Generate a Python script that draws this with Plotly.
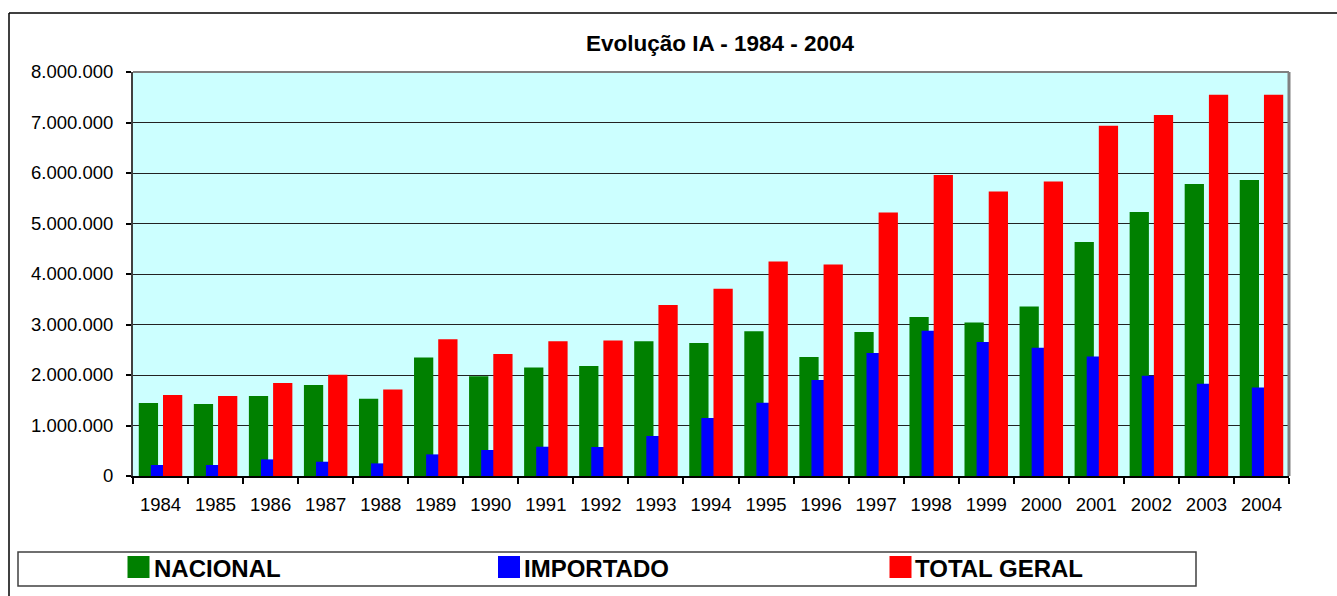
import plotly.graph_objects as go

# ---- data ----
years = [str(y) for y in range(1984, 2005)]
nacional = [1445000, 1426000, 1584000, 1802000, 1531000, 2349000, 1973000, 2148000,
            2178000, 2666000, 2634000, 2864000, 2356000, 2851000, 3149000, 3042000,
            3358000, 4634000, 5228000, 5782000, 5861000]
importado = [218000, 218000, 329000, 283000, 250000, 428000, 515000, 580000,
             574000, 792000, 1149000, 1451000, 1901000, 2436000, 2877000, 2653000,
             2540000, 2368000, 1986000, 1828000, 1754000]
total_geral = [1604000, 1584000, 1842000, 2006000, 1715000, 2706000, 2416000, 2666000,
               2685000, 3386000, 3709000, 4250000, 4190000, 5220000, 5960000, 5636000,
               5834000, 6937000, 7148000, 7550000, 7550000]
series_names = ["NACIONAL", "IMPORTADO", "TOTAL GERAL"]
series_colors = ["#008000", "#0000FF", "#FF0000"]
y_ticks = [0, 1000000, 2000000, 3000000, 4000000, 5000000, 6000000, 7000000, 8000000]
title_text = "Evolução IA - 1984 - 2004"

# ---- layout geometry (pixels) ----
W, H = 1337, 596
L, R, T, B = 133, 48, 72, 120
PW = W - L - R
PH = H - T - B


def px(x):
    return (x - L) / PW


def py(y):
    return (H - B - y) / PH


FONT = "Liberation Sans, Arial, sans-serif"

fig = go.Figure()
offsets = [-0.395, -0.175, 0.045]
for name, vals, color, off in zip(series_names, [nacional, importado, total_geral],
                                  series_colors, offsets):
    fig.add_trace(go.Bar(
        x=years, y=vals, name=name, offset=off, width=0.35, opacity=1,
        marker=dict(color=color, line=dict(width=0)),
        showlegend=False,
    ))

shapes = []
# outer chart border (top and left)
shapes.append(dict(type="line", xref="paper", yref="paper",
                   x0=px(9), y0=py(H + 5), x1=px(9), y1=py(13),
                   line=dict(color="black", width=1.5)))
shapes.append(dict(type="line", xref="paper", yref="paper",
                   x0=px(9), y0=py(13), x1=px(W + 5), y1=py(13),
                   line=dict(color="black", width=1.5)))
# plot area grey border top/right
shapes.append(dict(type="line", xref="paper", yref="paper",
                   x0=0, y0=1, x1=1, y1=1, line=dict(color="#808080", width=2)))
shapes.append(dict(type="line", xref="paper", yref="paper",
                   x0=1, y0=0, x1=1, y1=1, line=dict(color="#808080", width=3)))
# legend box
shapes.append(dict(type="rect", xref="paper", yref="paper",
                   x0=px(18), y0=py(586), x1=px(1196), y1=py(552),
                   line=dict(color="#404040", width=1.5), fillcolor="white"))

annotations = [dict(text=f"<b>{title_text}</b>", xref="paper", yref="paper",
                    x=px(720), y=py(44), xanchor="center", yanchor="middle",
                    showarrow=False, font=dict(family=FONT, size=22.5, color="black"))]

swatch_x = [127.5, 498, 889.5]
text_x = [151.5, 521.5, 913]
for name, color, sx, tx in zip(series_names, series_colors, swatch_x, text_x):
    shapes.append(dict(type="rect", xref="paper", yref="paper",
                       x0=px(sx), y0=py(578), x1=px(sx + 22), y1=py(556),
                       line=dict(width=0), fillcolor=color))
    annotations.append(dict(text=f"<b>{name}</b>", xref="paper", yref="paper",
                            x=px(tx), y=py(568), xanchor="left", yanchor="middle",
                            showarrow=False,
                            font=dict(family=FONT, size=24, color="black")))

fig.update_layout(
    width=W, height=H,
    margin=dict(l=L, r=R, t=T, b=B, pad=0),
    paper_bgcolor="white",
    plot_bgcolor="#CCFFFF",
    barmode="overlay",
    separators=",.",
    font=dict(family=FONT, size=18, color="black"),
    shapes=shapes,
    annotations=annotations,
    showlegend=False,
    xaxis=dict(
        type="category", range=[-0.5, 20.5], tickson="boundaries",
        ticks="outside", ticklen=6, tickwidth=1.5, tickcolor="black",
        showline=True, linecolor="black", linewidth=2,
        showgrid=False, zeroline=False, ticklabelstandoff=11,
        tickfont=dict(family=FONT, size=18.5, color="black"),
    ),
    yaxis=dict(
        range=[0, 8000000], tickvals=y_ticks, tickformat=",d",
        ticks="outside", ticklen=5, tickwidth=1.5, tickcolor="black",
        showline=True, linecolor="#404040", linewidth=2,
        showgrid=True, gridcolor="#222222", gridwidth=1, zeroline=False,
        ticklabelstandoff=9,
        tickfont=dict(family=FONT, size=18.5, color="black"),
    ),
)

fig.write_html("out.html", config={"displayModeBar": False},
               post_script="document.body.style.margin='0';document.body.style.padding='0';")
